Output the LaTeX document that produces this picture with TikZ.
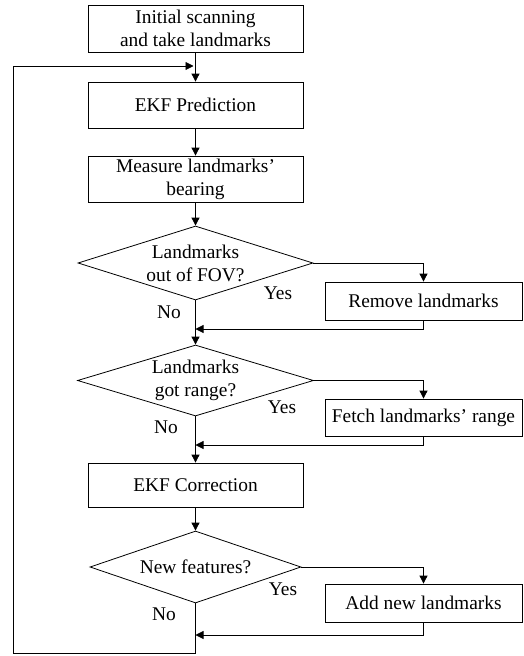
\documentclass[tikz,border=0pt]{standalone}
\usepackage{fontspec}
\setmainfont{Liberation Serif}
\usetikzlibrary{arrows.meta, shapes.geometric}

\tikzset{
	proc/.style={draw, rectangle, line width=.8pt, minimum width=215pt, inner sep=0pt,
		align=center, font=\fontsize{19.4}{23}\selectfont},
	side/.style={proc, minimum width=197pt},
	decision/.style={draw, diamond, line width=.8pt, inner sep=0pt, align=center,
		font=\fontsize{19.4}{23}\selectfont},
	answer/.style={font=\fontsize{19.4}{23}\selectfont, inner sep=0pt},
	arr/.style={line width=.8pt, -{Triangle[length=8pt,width=8pt]}},
	wire/.style={line width=.8pt}
}

\begin{document}
\begin{tikzpicture}[x=1pt, y=1pt]
	\useasboundingbox (0,0) rectangle (524,-656);
% main column
	\node[proc, minimum height=47pt] (init) at (195.5,-28.5) {Initial scanning\\and take landmarks};
	\node[proc, minimum height=46pt] (pred) at (195.5,-105) {EKF Prediction};
	\node[proc, minimum height=46pt] (meas) at (195.5,-179) {Measure landmarks'\\bearing};
	\node[decision, minimum width=235pt, minimum height=74pt, aspect=3.18] (fov) at (195.5,-263) {Landmarks\\out of FOV?};
	\node[decision, minimum width=236pt, minimum height=71pt, aspect=3.32] (range) at (195.5,-380.5) {Landmarks\\got range?};
	\node[proc, minimum height=44pt] (corr) at (195.5,-485) {EKF Correction};
	\node[decision, minimum width=211pt, minimum height=72pt, aspect=2.93] (new) at (195.5,-567) {New features?};
% side column
	\node[side, minimum height=38pt] (rem) at (423.5,-301) {Remove landmarks};
	\node[side, minimum height=37pt] (fetch) at (423.5,-417.5) {Fetch landmarks' range};
	\node[side, minimum height=38pt] (add) at (423.5,-603) {Add new landmarks};
% answers
	\node[answer] (yes1) at (278,-293) {Yes};
	\node[answer] (no1) at (169,-312) {No};
	\node[answer] (yes2) at (282,-407) {Yes};
	\node[answer] (no2) at (166,-427) {No};
	\node[answer] (yes3) at (283,-589) {Yes};
	\node[answer] (no3) at (164,-614) {No};
% joints on the main line
	\coordinate (loop) at (195.5,-66);
	\coordinate (j1) at (195.5,-329);
	\coordinate (j2) at (195.5,-445);
	\coordinate (j3) at (195.5,-635);
	\coordinate (bot) at (195.5,-653);

	\draw[arr] (init) -- (pred);
	\draw[arr] (pred) -- (meas);
	\draw[arr] (meas) -- (fov);
	\draw[arr] (fov.south) -- (range.north);
	\draw[arr] (range.south) -- (corr.north);
	\draw[arr] (corr) -- (new);
	\draw[arr] (fov.east) -| (rem.north);
	\draw[arr] (range.east) -| (fetch.north);
	\draw[arr] (new.east) -| (add.north);
	\draw[arr] (rem.south) |- (j1);
	\draw[arr] (fetch.south) |- (j2);
	\draw[arr] (add.south) |- (j3);
	\draw[arr] (new.south) -- (bot) -- ++(-182.5,0) |- ([xshift=-2pt]loop);

\end{tikzpicture}
\end{document}
